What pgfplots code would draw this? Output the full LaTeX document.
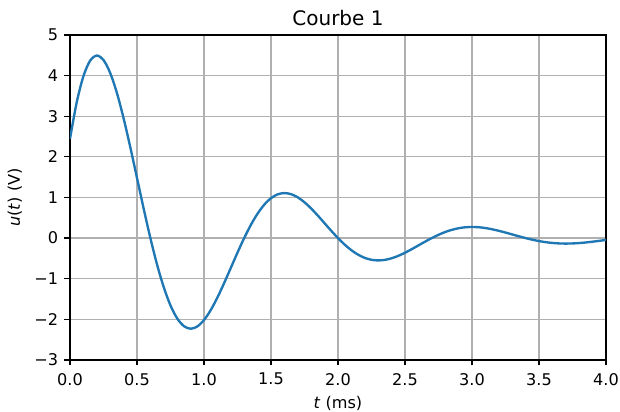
\documentclass[border=0pt]{standalone}
\usepackage{fontspec}
\setmainfont{DejaVu Sans}
\usepackage{pgfplots}
\pgfplotsset{compat=1.18}

\definecolor{mplblue}{HTML}{1F77B4}
\definecolor{mplgrid}{HTML}{B0B0B0}

\pgfplotstableread{
t u
0.00 2.443
0.05 3.339
0.10 3.983
0.15 4.366
0.20 4.494
0.25 4.385
0.30 4.066
0.35 3.575
0.40 2.951
0.45 2.238
0.50 1.482
0.55 0.723
0.60 0.000
0.65 -0.654
0.70 -1.213
0.75 -1.658
0.80 -1.978
0.85 -2.168
0.90 -2.232
0.95 -2.177
1.00 -2.019
1.05 -1.775
1.10 -1.465
1.15 -1.111
1.20 -0.736
1.25 -0.359
1.30 0.000
1.35 0.325
1.40 0.602
1.45 0.823
1.50 0.982
1.55 1.077
1.60 1.108
1.65 1.081
1.70 1.003
1.75 0.881
1.80 0.728
1.85 0.552
1.90 0.365
1.95 0.178
2.00 0.000
2.05 -0.161
2.10 -0.299
2.15 -0.409
2.20 -0.488
2.25 -0.535
2.30 -0.550
2.35 -0.537
2.40 -0.498
2.45 -0.438
2.50 -0.361
2.55 -0.274
2.60 -0.181
2.65 -0.089
2.70 0.000
2.75 0.080
2.80 0.149
2.85 0.203
2.90 0.242
2.95 0.266
3.00 0.273
3.05 0.267
3.10 0.247
3.15 0.217
3.20 0.179
3.25 0.136
3.30 0.090
3.35 0.044
3.40 0.000
3.45 -0.040
3.50 -0.074
3.55 -0.101
3.60 -0.120
3.65 -0.132
3.70 -0.136
3.75 -0.132
3.80 -0.123
3.85 -0.108
3.90 -0.089
3.95 -0.068
4.00 -0.045
}\curve

\begin{document}
\begin{tikzpicture}
\begin{axis}[
  scale only axis,
  width=386pt, height=234pt,
  xmin=0, xmax=4, ymin=-3, ymax=5,
  xtick={0,0.5,...,4}, ytick={-3,-2,...,5},
  xticklabels={0.0,0.5,1.0,1.5,2.0,2.5,3.0,3.5,4.0},
  yticklabels={−3,−2,−1,0,1,2,3,4,5},
  tick label style={font=\fontsize{11.6}{13}\selectfont},
  xticklabel style={yshift=-2pt},
  yticklabel style={xshift=-1pt},
  tick align=outside, major tick length=4pt,
  tick style={line width=0.9pt, black},
  xtick pos=bottom, ytick pos=left,
  axis line style={line width=0.9pt},
  grid=major, grid style={line width=0.9pt, mplgrid},
  title={Courbe 1},
  title style={font=\fontsize{14.4}{16}\selectfont, yshift=-3pt},
  xlabel={\textit{t} (ms)},
  ylabel={\textit{u}(\textit{t}) (V)},
  label style={font=\fontsize{11.6}{13}\selectfont},
  xlabel style={yshift=-1pt},
  ylabel style={yshift=2pt},
]
\addplot[mplblue, line width=1.7pt, smooth] table[x=t, y=u] {\curve};
\end{axis}
\pgfresetboundingbox
\useasboundingbox ([xshift=-50.4pt,yshift=-37.4pt]current axis.south west) rectangle ([xshift=10.1pt,yshift=25.2pt]current axis.north east);
\end{tikzpicture}
\end{document}
